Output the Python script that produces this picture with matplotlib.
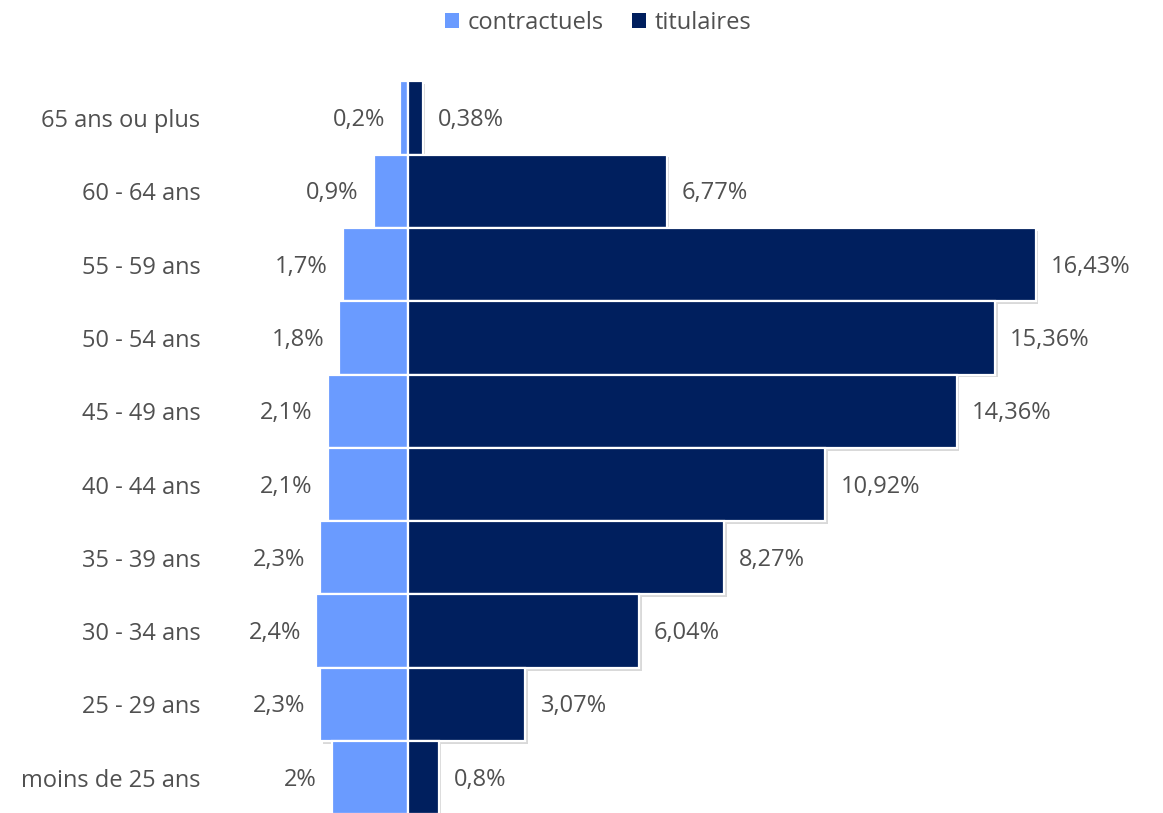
import matplotlib
matplotlib.use("Agg")
import matplotlib.pyplot as plt
import matplotlib.patheffects as pe
from matplotlib.patches import Patch

categories = ["65 ans ou plus", "60 - 64 ans", "55 - 59 ans", "50 - 54 ans", "45 - 49 ans",
              "40 - 44 ans", "35 - 39 ans", "30 - 34 ans", "25 - 29 ans", "moins de 25 ans"]
contractuels = [0.2, 0.9, 1.7, 1.8, 2.1, 2.1, 2.3, 2.4, 2.3, 2.0]
titulaires = [0.38, 6.77, 16.43, 15.36, 14.36, 10.92, 8.27, 6.04, 3.07, 0.8]
series_names = ["contractuels", "titulaires"]

C_LIGHT = "#6A9BFF"
C_DARK = "#001F5E"
TXT = "#505050"

plt.rcParams['font.family'] = ['Open Sans', 'DejaVu Sans']

W, H = 1163, 813
fig = plt.figure(figsize=(W / 100, H / 100), dpi=100)
ax_left_px, ax_right_px = 220, 1163
ax = fig.add_axes([ax_left_px / W, 0, (ax_right_px - ax_left_px) / W, 1])

px_per_unit = 38.2
center_px = 408
ax.set_xlim(-(center_px - ax_left_px) / px_per_unit, (ax_right_px - center_px) / px_per_unit)
row_px = 73.3
bottom_center_px = 777.7
ax.set_ylim((bottom_center_px - H) / row_px, bottom_center_px / row_px)

n = len(categories)
ypos = [n - 1 - i for i in range(n)]

shadow = [pe.SimplePatchShadow(offset=(2, -2), shadow_rgbFace="#000000", alpha=0.15), pe.Normal()]

bl = ax.barh(ypos, [-v for v in contractuels], height=1.0, color=C_LIGHT, edgecolor="white",
             linewidth=1.6, label=series_names[0])
br = ax.barh(ypos, titulaires, height=1.0, color=C_DARK, edgecolor="white",
             linewidth=1.6, label=series_names[1])
for b in list(bl) + list(br):
    b.set_path_effects(shadow)

def fmt(v):
    return f"{v:g}".replace(".", ",") + "%"

FS = 17
for y, v in zip(ypos, contractuels):
    ax.annotate(fmt(v), (-v, y), xytext=(-11, -1.5), textcoords="offset points",
                ha="right", va="center", fontsize=FS, color=TXT)
for y, v in zip(ypos, titulaires):
    ax.annotate(fmt(v), (v, y), xytext=(11, -1.5), textcoords="offset points",
                ha="left", va="center", fontsize=FS, color=TXT)

ax.set_yticks(ypos)
ax.set_yticklabels(categories, fontsize=FS, color=TXT)
ax.tick_params(axis="y", length=0, pad=14)
ax.set_xticks([])
for s in ax.spines.values():
    s.set_visible(False)

handles = [Patch(facecolor=C_LIGHT), Patch(facecolor=C_DARK)]
fig.legend(handles, series_names, loc="center", bbox_to_anchor=(598 / W, 1 - 23 / H), ncol=2,
           frameon=False, fontsize=FS, labelcolor=TXT, handlelength=0.6, handleheight=0.6,
           handletextpad=0.35, columnspacing=1.2)

fig.savefig("out.png", dpi=100)
